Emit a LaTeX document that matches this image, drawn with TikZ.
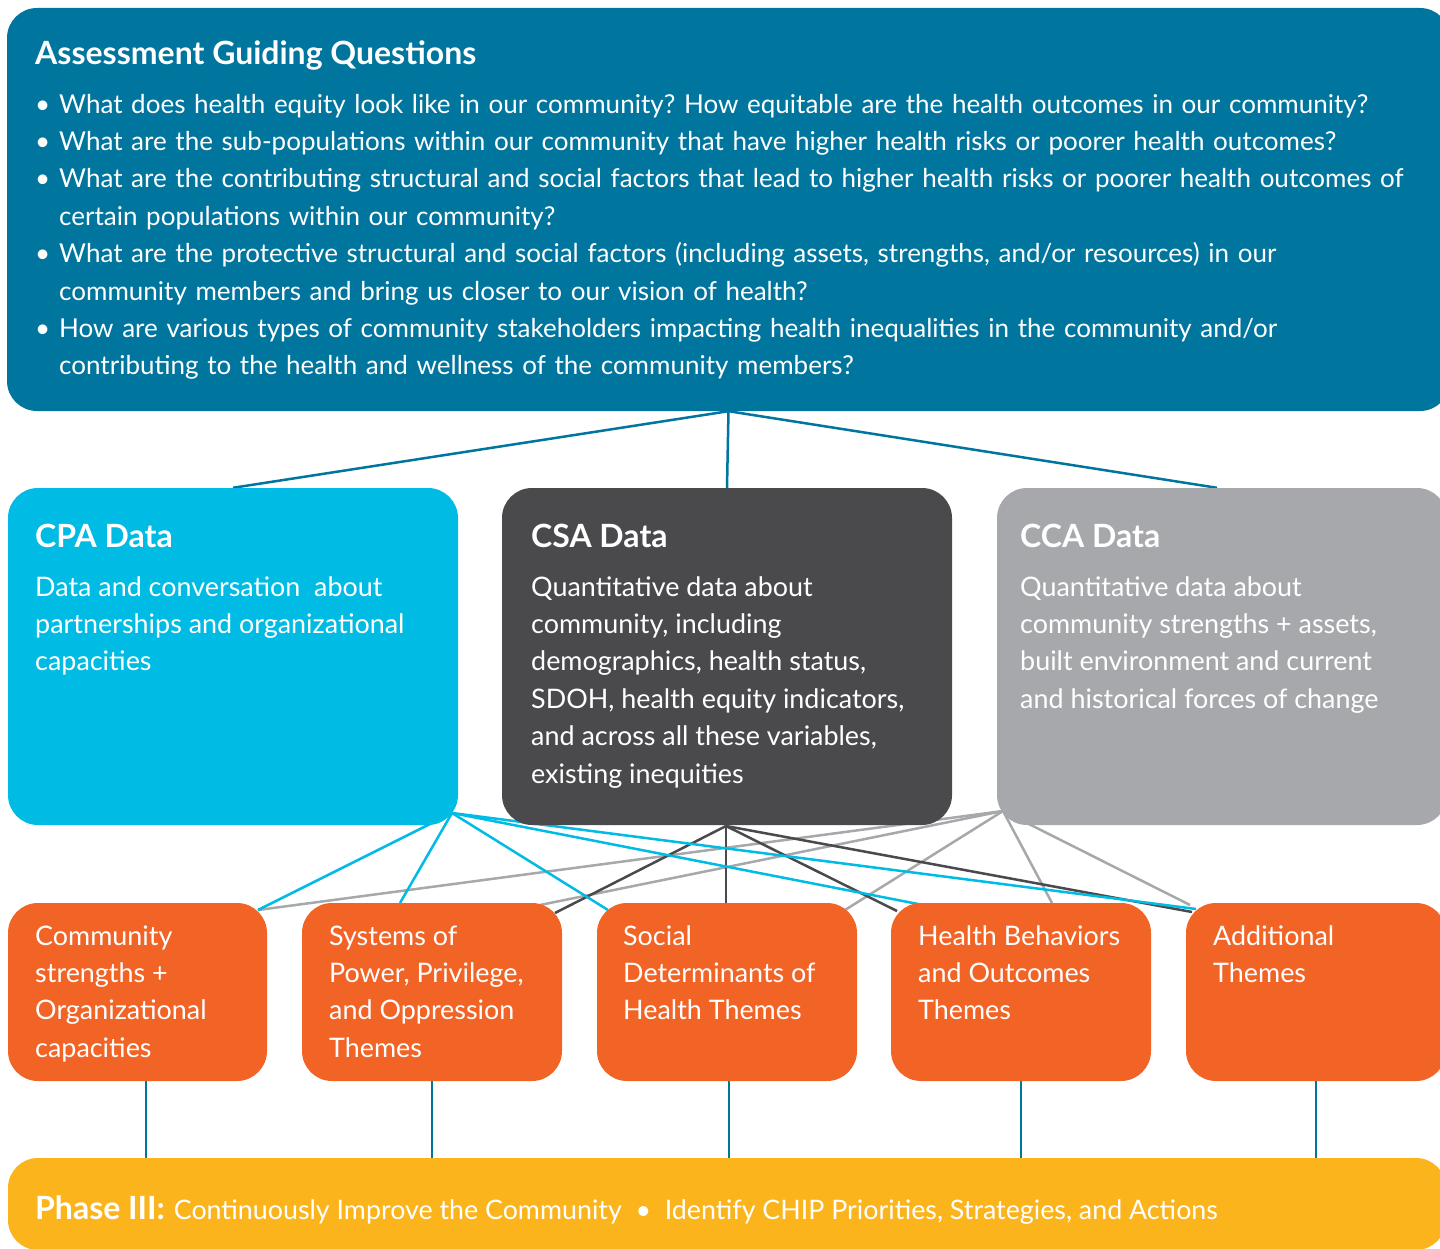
\documentclass[tikz,border=0pt]{standalone}
\usepackage{fontspec}
\setmainfont{Lato}
\usetikzlibrary{backgrounds,calc}
\definecolor{cTop}{HTML}{00769F}
\definecolor{cCPA}{HTML}{00BCE4}
\definecolor{cCSA}{HTML}{4A4A4D}
\definecolor{cCCA}{HTML}{A7A8AB}
\definecolor{cOr}{HTML}{F26326}
\definecolor{cYel}{HTML}{FBB41B}
\frenchspacing
\begin{document}
\begin{tikzpicture}[x=1pt,y=-1pt,
  box/.style={rectangle,rounded corners=30pt,inner sep=0pt,draw=none},
  txt/.style={text=white,anchor=north west,inner sep=0pt,align=left},
  body/.style={txt,font=\fontsize{26.9}{37.4}\selectfont},
  qbody/.style={txt,font=\fontsize{26}{37.4}\selectfont},
  head/.style={txt,font=\fontsize{32}{36}\selectfont\bfseries},
  lnk/.style={line width=2.5pt}]
\useasboundingbox (0,0) rectangle (1440,1249);
\clip (0,0) rectangle (1440,1249);
% boxes
\node[box,fill=cTop,minimum width=1443pt,minimum height=403pt] (top) at (728.5,209.5) {};
\node[box,fill=cCPA,minimum width=450pt,minimum height=337pt] (cpa) at (233,656.5) {};
\node[box,fill=cCSA,minimum width=450pt,minimum height=337pt] (csa) at (727,656.5) {};
\node[box,fill=cCCA,minimum width=450pt,minimum height=337pt] (cca) at (1222,656.5) {};
\node[box,fill=cOr,minimum width=259pt,minimum height=178pt] (o1) at (137.5,992) {};
\node[box,fill=cOr,minimum width=260pt,minimum height=178pt] (o2) at (432,992) {};
\node[box,fill=cOr,minimum width=260pt,minimum height=178pt] (o3) at (727,992) {};
\node[box,fill=cOr,minimum width=260pt,minimum height=178pt] (o4) at (1021,992) {};
\node[box,fill=cOr,minimum width=260pt,minimum height=178pt] (o5) at (1316,992) {};
\node[box,fill=cYel,minimum width=1438pt,minimum height=92pt] (yel) at (727,1204) {};
% anchor points for connectors
\coordinate (P) at (452,813);
\coordinate (Q) at (726,826);
\coordinate (R) at (1003,811);
\coordinate (a1) at (258,910);
\coordinate (b2) at (400,903);
\coordinate (c3) at (608,910);
\coordinate (d4) at (918,904);
\coordinate (e5) at (1196,909);
\coordinate (f2) at (555,913);
\coordinate (g3) at (726,903);
\coordinate (h4) at (897,911);
\coordinate (i5) at (1192,912);
\coordinate (j2) at (540,905);
\coordinate (k3) at (845,910);
\coordinate (l4) at (1052,903);
\coordinate (m5) at (1190,905);
\coordinate (v1) at (146,1081);
\coordinate (v2) at (432,1081);
\coordinate (v3) at (729,1081);
\coordinate (v4) at (1021,1081);
\coordinate (v5) at (1316,1081);
\begin{scope}[on background layer]
\fill[white] (0,0) rectangle (1440,1249);
\draw[lnk,cTop] (top.south) -- (cpa.north);
\draw[lnk,cTop] (top.south) -- (csa.north);
\draw[lnk,cTop] (top.south) -- ($(cca.north)+(-5,0)$);
\draw[lnk,cTop] (v1) -- (v1 |- yel.north);
\draw[lnk,cTop] (v2) -- (v2 |- yel.north);
\draw[lnk,cTop] (v3) -- (v3 |- yel.north);
\draw[lnk,cTop] (v4) -- (v4 |- yel.north);
\draw[lnk,cTop] (v5) -- (v5 |- yel.north);
\foreach \t in {a1,j2,k3,l4,m5} \draw[lnk,cCCA] (R) -- (\t);
\foreach \t in {f2,g3,h4,i5} \draw[lnk,cCSA] (Q) -- (\t);
\foreach \t in {a1,b2,c3,d4,e5} \draw[lnk,cCPA] (P) -- (\t);
\end{scope}
% texts
\node[head,anchor=base west] (tt) at (35,65) {Assessment Guiding Questions};
\node[qbody,text width=1400pt] (tq) at (35,86.8) {%
\strut\makebox[24pt][l]{\textbullet}What does health equity look like in our community? How equitable are the health outcomes in our community?\\
\makebox[24pt][l]{\textbullet}What are the sub-populations within our community that have higher health risks or poorer health outcomes?\\
\makebox[24pt][l]{\textbullet}What are the contributing structural and social factors that lead to higher health risks or poorer health outcomes of\\
\hspace*{24pt}certain populations within our community?\\
\makebox[24pt][l]{\textbullet}What are the protective structural and social factors (including assets, strengths, and/or resources) in our\\
\hspace*{24pt}community members and bring us closer to our vision of health?\\
\makebox[24pt][l]{\textbullet}How are various types of community stakeholders impacting health inequalities in the community and/or\\
\hspace*{24pt}contributing to the health and wellness of the community members?};
\node[head,anchor=base west] (h1) at (35,547) {CPA Data};
\node[head,anchor=base west] (h2) at (531,547) {CSA Data};
\node[head,anchor=base west] (h3) at (1020,547) {CCA Data};
\node[body] (b1) at (35,569.8) {\strut Data and conversation\ \ about\\partnerships and organizational\\capacities};
\node[body] (b2t) at (531,569.8) {\strut Quantitative data about\\community, including\\demographics, health status,\\SDOH, health equity indicators,\\and across all these variables,\\existing inequities};
\node[body] (b3) at (1020,569.8) {\strut Quantitative data about\\community strengths + assets,\\built environment and current\\and historical forces of change};
\node[body] (t1) at (35,918.8) {\strut Community\\strengths +\\Organizational\\capacities};
\node[body] (t2) at (329,918.8) {\strut Systems of\\Power, Privilege,\\and Oppression\\Themes};
\node[body] (t3) at (623,918.8) {\strut Social\\Determinants of\\Health Themes};
\node[body] (t4) at (918,918.8) {\strut Health Behaviors\\and Outcomes\\Themes};
\node[body] (t5) at (1213,918.8) {\strut Additional\\Themes};
\node[txt,anchor=base west] (ph) at (35,1219) {{\fontsize{32}{36}\selectfont\bfseries Phase III:}\hspace{9pt}{\fontsize{26.8}{36}\selectfont Continuously Improve the Community \ \textbullet\ \ Identify CHIP Priorities, Strategies, and Actions}};
\end{tikzpicture}
\end{document}
